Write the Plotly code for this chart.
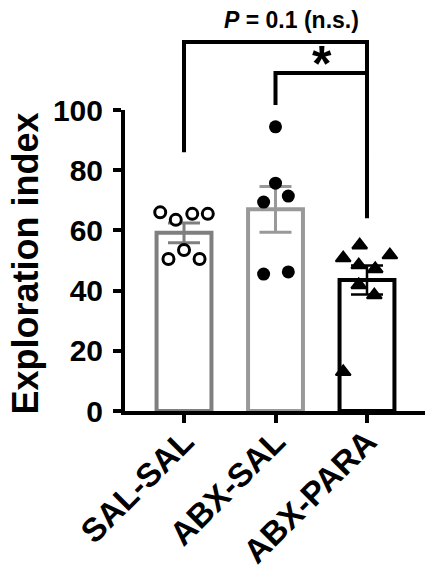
import plotly.graph_objects as go

# ---- data ----
categories = ["SAL-SAL", "ABX-SAL", "ABX-PARA"]
means = [59.2, 67.0, 43.5]
sems = [3.3, 7.6, 4.8]
sal_sal = [66.0, 63.5, 65.5, 65.5, 53.5, 50.5, 50.5]
abx_sal = [94.4, 75.7, 69.4, 71.4, 45.5, 46.2]
abx_para = [55.1, 51.8, 50.8, 48.5, 47.2, 41.9, 38.5, 13.0]
y_ticks = [0, 20, 40, 60, 80, 100]
p_label = "<i>P</i> = 0.1 (n.s.)"
star_label = "*"

# ---- layout helpers (positions / styles) ----
jitter = [
    [-0.26, -0.09, 0.09, 0.26, 0.0, -0.17, 0.17],
    [0.0, 0.0, -0.13, 0.14, -0.13, 0.14],
    [-0.08, 0.25, -0.26, -0.09, 0.09, -0.09, 0.08, -0.26],
]
groups = [sal_sal, abx_sal, abx_para]
bar_line_colors = ["#7f7f7f", "#999999", "#000000"]
err_thick = [3, 3, 2.5]
markers = [
    dict(symbol="circle", size=11, color="white", line=dict(color="black", width=3)),
    dict(symbol="circle", size=13, color="black", line=dict(color="black", width=0)),
    dict(symbol="triangle-up", size=13, color="black", line=dict(color="black", width=2)),
]
FONT = "Arial, 'Liberation Sans', sans-serif"
XMIN, XMAX = -0.645, 2.634
YMAX = 100.0

fig = go.Figure()
for i, cat in enumerate(categories):
    fig.add_trace(go.Bar(
        x=[i], y=[means[i]], width=0.6,
        marker=dict(color="white", line=dict(color=bar_line_colors[i], width=4)),
        error_y=dict(type="data", array=[sems[i]], visible=True,
                     color=bar_line_colors[i], thickness=err_thick[i], width=16),
        showlegend=False, hoverinfo="skip",
    ))
for i, vals in enumerate(groups):
    fig.add_trace(go.Scatter(
        x=[i + j for j in jitter[i]], y=vals, mode="markers",
        marker=markers[i], showlegend=False, cliponaxis=False,
    ))


def px(c):
    return (c - XMIN) / (XMAX - XMIN)


def py(v):
    return v / YMAX


# significance brackets (values in data units)
big_top, big_left_bottom, right_bottom = 122.6, 86.0, 64.0
small_top, small_left_bottom = 112.3, 101.7
shapes = [
    dict(type="path", xref="paper", yref="paper",
         path=f"M {px(0)},{py(big_left_bottom)} L {px(0)},{py(big_top)} "
              f"L {px(2)},{py(big_top)} L {px(2)},{py(right_bottom)}",
         line=dict(color="black", width=4)),
    dict(type="path", xref="paper", yref="paper",
         path=f"M {px(1)},{py(small_left_bottom)} L {px(1)},{py(small_top)} "
              f"L {px(2)},{py(small_top)}",
         line=dict(color="black", width=4)),
    # x-axis extension to the left of the y axis
    dict(type="line", xref="paper", yref="paper", x0=-10 / 300, x1=0, y0=0, y1=0,
         line=dict(color="black", width=4)),
]

annotations = [
    dict(text=p_label, xref="paper", yref="paper", x=px(1.18), y=py(129.9),
         showarrow=False, font=dict(family=FONT, size=23, color="black", weight="bold"),
         xanchor="center", yanchor="middle"),
    dict(text=star_label, xref="paper", yref="paper", x=px(1.51), y=py(115.3),
         showarrow=False, font=dict(family=FONT, size=50, color="black", weight="bold"),
         xanchor="center", yanchor="middle"),
    dict(text="Exploration index", xref="paper", yref="paper", x=(26 - 125) / 300, y=0.49,
         textangle=-90, showarrow=False,
         font=dict(family=FONT, size=36, color="black", weight="bold"),
         xanchor="center", yanchor="middle"),
]

fig.update_layout(
    width=425, height=574,
    margin=dict(l=125, r=0, t=110, b=163, autoexpand=False),
    paper_bgcolor="white", plot_bgcolor="white",
    barmode="overlay",
    shapes=shapes, annotations=annotations,
    font=dict(family=FONT, color="black"),
)
fig.update_xaxes(
    range=[XMIN, XMAX], tickmode="array", tickvals=list(range(len(categories))),
    ticktext=categories, tickangle=-45, automargin=False,
    tickfont=dict(family=FONT, size=33, color="black", weight="bold"),
    ticks="outside", ticklen=8, tickwidth=4, tickcolor="black",
    showline=True, linewidth=4, linecolor="black", showgrid=False, zeroline=False,
    ticklabelstandoff=-14,
)
fig.update_yaxes(
    range=[0, YMAX], tickmode="array", tickvals=y_ticks, automargin=False,
    tickfont=dict(family=FONT, size=30, color="black", weight="bold"),
    ticks="outside", ticklen=8, tickwidth=4, tickcolor="black",
    showline=True, linewidth=4, linecolor="black", showgrid=False, zeroline=False,
    ticklabelstandoff=4,
)

fig.write_html("out.html")
